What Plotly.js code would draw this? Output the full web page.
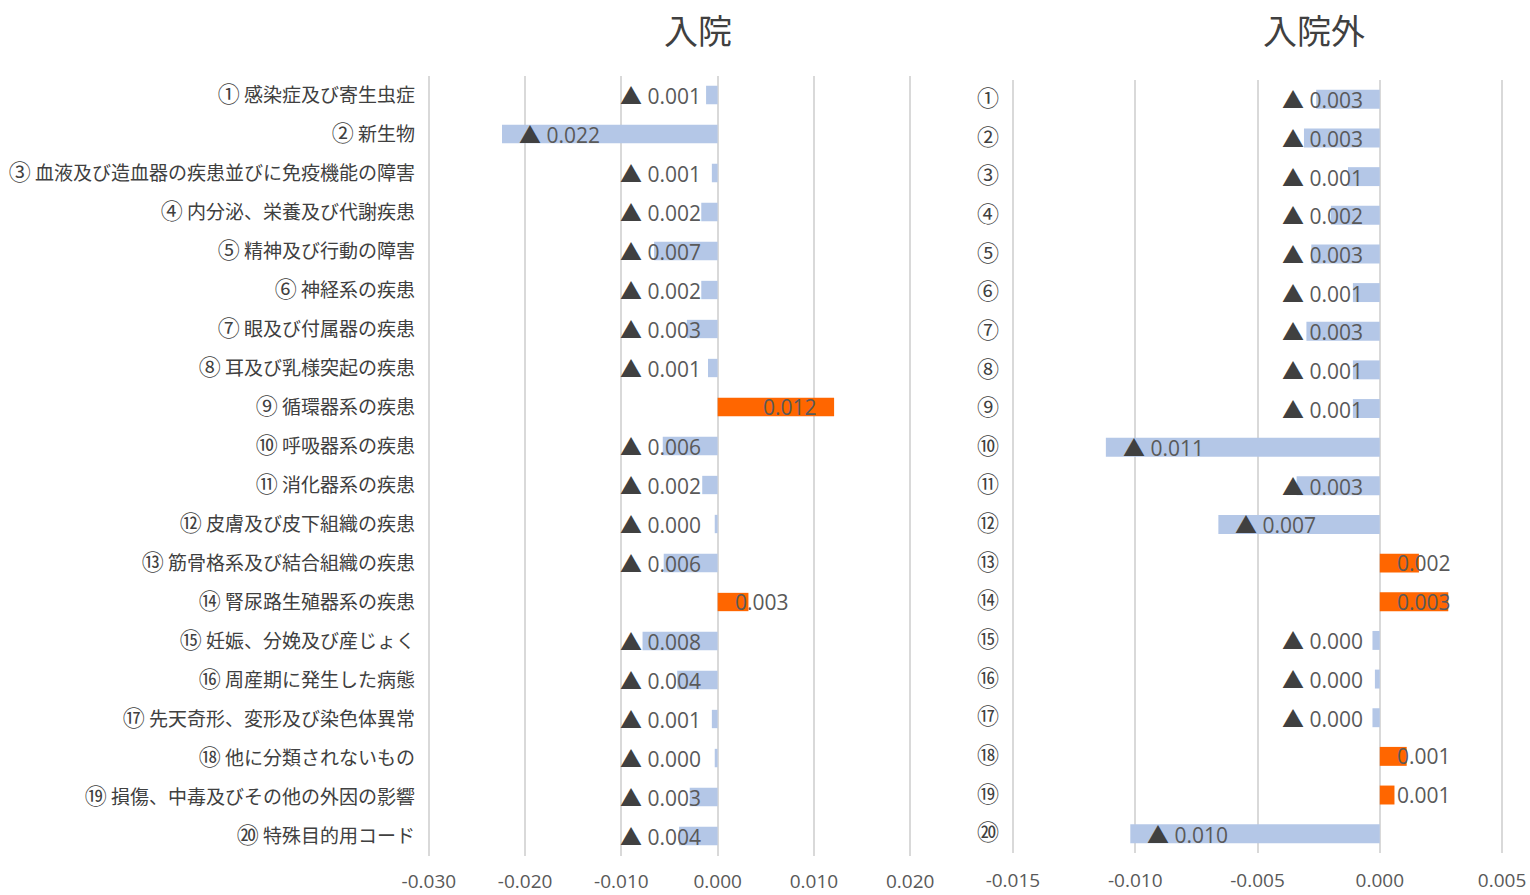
<!DOCTYPE html>
<html>
<head>
<meta charset="utf-8">
<script src="https://cdn.plot.ly/plotly-3.0.1.min.js"></script>
<style>html,body{margin:0;padding:0;background:#fff;}#chart{width:1530px;height:895px;}</style>
</head>
<body>
<div id="chart"></div>
<script>
// ---- data ----
const circled = ["①","②","③","④","⑤","⑥","⑦","⑧","⑨","⑩","⑪","⑫","⑬","⑭","⑮","⑯","⑰","⑱","⑲","⑳"];
const names = [
  "感染症及び寄生虫症",
  "新生物",
  "血液及び造血器の疾患並びに免疫機能の障害",
  "内分泌、栄養及び代謝疾患",
  "精神及び行動の障害",
  "神経系の疾患",
  "眼及び付属器の疾患",
  "耳及び乳様突起の疾患",
  "循環器系の疾患",
  "呼吸器系の疾患",
  "消化器系の疾患",
  "皮膚及び皮下組織の疾患",
  "筋骨格系及び結合組織の疾患",
  "腎尿路生殖器系の疾患",
  "妊娠、分娩及び産じょく",
  "周産期に発生した病態",
  "先天奇形、変形及び染色体異常",
  "他に分類されないもの",
  "損傷、中毒及びその他の外因の影響",
  "特殊目的用コード"
];
const categories = circled.map((c, i) => c + " " + names[i]);

// 入院 (inpatient)
const inpatient = [-0.0012, -0.0224, -0.0006, -0.0017, -0.0066, -0.0017, -0.0032, -0.0010, 0.0121, -0.0057,
                   -0.0016, -0.0003, -0.0056, 0.0032, -0.0078, -0.0042, -0.0006, -0.0003, -0.0029, -0.0040];
// 入院外 (outpatient)
const outpatient = [-0.0026, -0.0031, -0.0013, -0.0020, -0.0028, -0.0011, -0.0030, -0.0011, -0.0011, -0.0112,
                    -0.0034, -0.0066, 0.0016, 0.0028, -0.0003, -0.0002, -0.0003, 0.0011, 0.0006, -0.0102];

const titles = ["入院", "入院外"];
const xTicksLeft = [-0.03, -0.02, -0.01, 0, 0.01, 0.02];
const xTicksRight = [-0.015, -0.01, -0.005, 0, 0.005];

// ---- styling ----
const W = 1530, H = 895;
const BLUE = "#B4C7E7", ORANGE = "#FF6600";
const GRID = "#D9D9D9";
const NUMFONT = "Open Sans, Noto Sans, sans-serif";
const JPFONT = "Noto Sans CJK JP, sans-serif";

// plot areas padded a few pixels beyond the outer gridlines so those gridlines are drawn
const leftDom = [425 / W, 914 / W];
const rightDom = [1009 / W, 1506 / W];
const leftYDom = [1 - 855.5 / H, 1 - 75.5 / H];
const rightYDom = [1 - 853 / H, 1 - 80 / H];
const leftRange = [-0.0304, 0.0204];
const rightRange = [-0.01516, 0.00516];

function colors(vals) { return vals.map(v => v < 0 ? BLUE : ORANGE); }

const traces = [
  {
    type: "bar", orientation: "h", x: inpatient, y: categories,
    xaxis: "x", yaxis: "y", width: 0.47,
    marker: { color: colors(inpatient) }, hoverinfo: "x+y"
  },
  {
    type: "bar", orientation: "h", x: outpatient, y: circled,
    xaxis: "x2", yaxis: "y2", width: 0.49,
    marker: { color: colors(outpatient) }, hoverinfo: "x+y"
  }
];

function fmt(v) { return Math.abs(v).toFixed(3); }
const TRI = '<span style="font-family:Noto Sans CJK JP;font-size:22px;fill:#404040">▲</span>';

function labelAnnotations(vals, cats, xref, yref, dom, range) {
  const pxPerUnit = (dom[1] - dom[0]) * W / (range[1] - range[0]);
  const pad = 15;
  const negW = 88, posW = 56;
  return vals.map((v, i) => {
    const barPx = Math.abs(v) * pxPerUnit;
    let x, anchor, shift, text;
    if (v < 0) {
      text = TRI + ' ' + fmt(v);
      if (barPx - 2 * pad >= negW) { x = v; anchor = "left"; shift = pad; }
      else { x = 0; anchor = "right"; shift = -pad; }
    } else {
      text = fmt(v);
      if (barPx - 2 * pad >= posW) { x = v; anchor = "right"; shift = -pad; }
      else { x = 0; anchor = "left"; shift = pad; }
    }
    return {
      xref: xref, yref: yref, x: x, y: cats[i], text: text,
      xanchor: anchor, yanchor: "middle", xshift: shift, yshift: v < 0 ? 1 : 0, showarrow: false,
      font: { family: NUMFONT, size: 21, color: "#595959" }
    };
  });
}

const annotations = [].concat(
  labelAnnotations(inpatient, categories, "x", "y", leftDom, leftRange),
  labelAnnotations(outpatient, circled, "x2", "y2", rightDom, rightRange),
  [
    { xref: "paper", yref: "paper", x: 698 / W, y: 1 - 30 / H, text: titles[0], showarrow: false,
      xanchor: "center", yanchor: "middle", font: { family: JPFONT, size: 34, color: "#404040" } },
    { xref: "paper", yref: "paper", x: 1314 / W, y: 1 - 30 / H, text: titles[1], showarrow: false,
      xanchor: "center", yanchor: "middle", font: { family: JPFONT, size: 34, color: "#404040" } }
  ]
);

const big = c => '<span style="font-size:22px">' + c + '</span>';
const leftTickText = circled.map((c, i) => big(c) + ' ' + names[i]);
const rightTickText = circled.map(c => big(c));

const xaxisBase = {
  showgrid: true, gridcolor: GRID, gridwidth: 2, zeroline: false,
  showline: false, ticks: "", fixedrange: true,
  tickfont: { family: NUMFONT, size: 19, color: "#595959" }
};
const yaxisBase = {
  type: "category", autorange: "reversed", showgrid: false, zeroline: false,
  showline: false, ticks: "", fixedrange: true,
  tickfont: { family: JPFONT, size: 19, color: "#404040" }
};

const layout = {
  width: W, height: H,
  margin: { l: 0, r: 0, t: 0, b: 0 },
  paper_bgcolor: "#fff", plot_bgcolor: "#fff",
  showlegend: false, bargap: 0.5,
  xaxis: Object.assign({}, xaxisBase, { domain: leftDom, range: leftRange, tickvals: xTicksLeft,
    ticktext: xTicksLeft.map(v => v.toFixed(3)), anchor: "y", ticklabelstandoff: 12 }),
  yaxis: Object.assign({}, yaxisBase, { domain: leftYDom, anchor: "x", ticklabelstandoff: 9,
    tickvals: categories, ticktext: leftTickText }),
  xaxis2: Object.assign({}, xaxisBase, { domain: rightDom, range: rightRange, tickvals: xTicksRight,
    ticktext: xTicksRight.map(v => v.toFixed(3)), anchor: "y2", ticklabelstandoff: 14 }),
  yaxis2: Object.assign({}, yaxisBase, { domain: rightYDom, anchor: "x2", ticklabelstandoff: 9,
    tickvals: circled, ticktext: rightTickText }),
  annotations: annotations
};

Plotly.newPlot("chart", traces, layout, { displayModeBar: false, staticPlot: true });
</script>
</body>
</html>
